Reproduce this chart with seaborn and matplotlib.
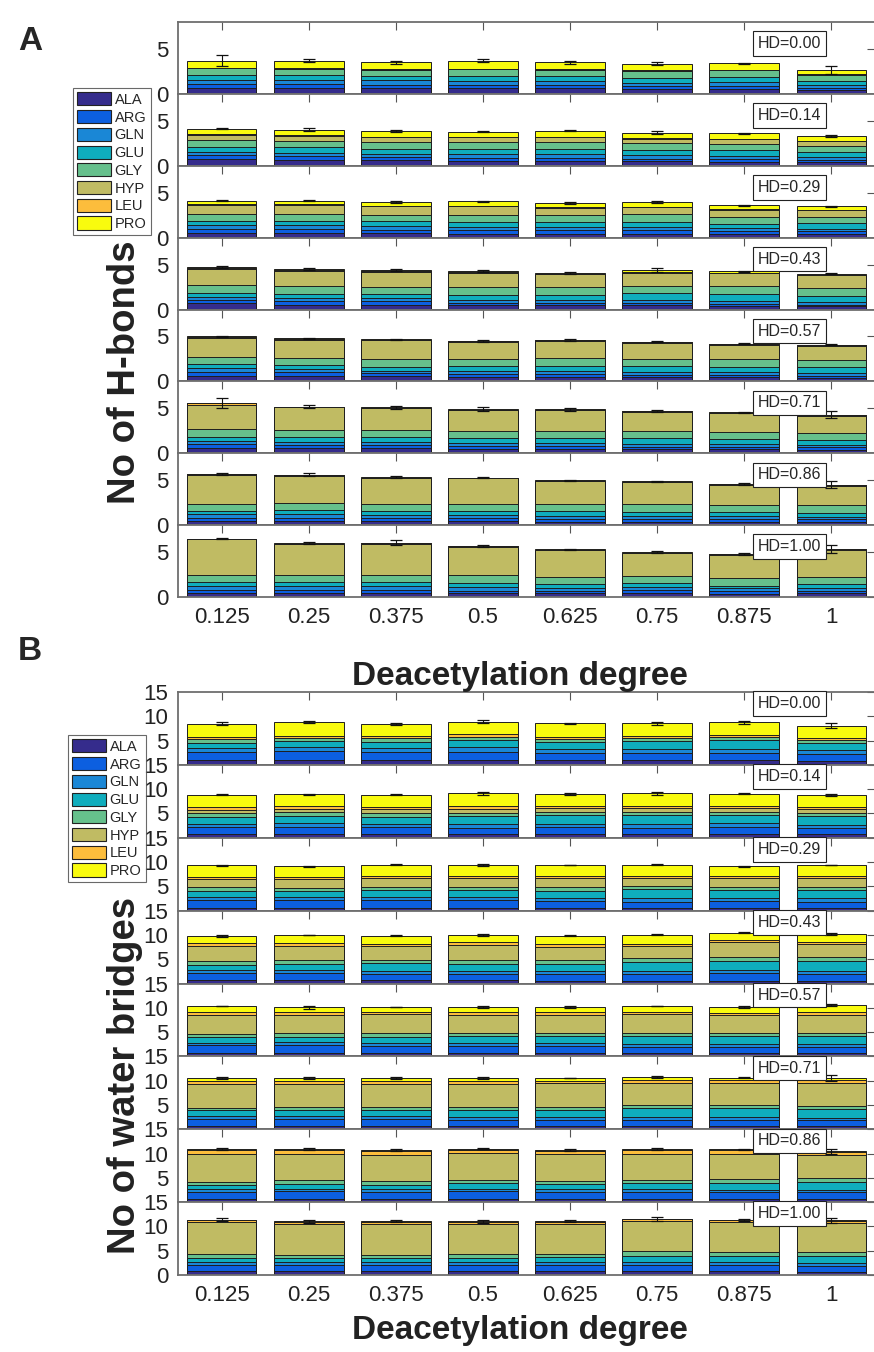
import numpy as np
import pandas as pd
import matplotlib
matplotlib.use("Agg")
import matplotlib.pyplot as plt
import matplotlib.transforms as mtransforms
import seaborn as sns
from matplotlib.patches import Patch

residues = ["ALA", "ARG", "GLN", "GLU", "GLY", "HYP", "LEU", "PRO"]
res_colors = ["#352c8c", "#0c5fe0", "#1a87d6", "#0fadbd", "#66c08c", "#c0bb63", "#fcbd3c", "#f9fb0e"]
dd = [0.125, 0.25, 0.375, 0.5, 0.625, 0.75, 0.875, 1.0]
dd_labels = ["0.125", "0.25", "0.375", "0.5", "0.625", "0.75", "0.875", "1"]
hd_labels = ["HD=0.00", "HD=0.14", "HD=0.29", "HD=0.43", "HD=0.57", "HD=0.71", "HD=0.86", "HD=1.00"]

# ---- Panel A: number of H-bonds (rows = HD, cols = deacetylation degree)
hb_ALA = [[0.70, 0.70, 0.65, 0.60, 0.60, 0.55, 0.55, 0.40],
          [0.75, 0.65, 0.60, 0.55, 0.55, 0.50, 0.45, 0.40],
          [0.55, 0.55, 0.50, 0.45, 0.45, 0.45, 0.40, 0.40],
          [0.70, 0.55, 0.50, 0.45, 0.45, 0.45, 0.40, 0.35],
          [0.65, 0.60, 0.55, 0.50, 0.50, 0.45, 0.45, 0.40],
          [0.60, 0.60, 0.55, 0.50, 0.50, 0.45, 0.45, 0.40],
          [0.45, 0.45, 0.45, 0.45, 0.40, 0.40, 0.40, 0.40],
          [0.45, 0.45, 0.45, 0.40, 0.40, 0.45, 0.35, 0.40]]
hb_ARG = [[0.40, 0.40, 0.35, 0.35, 0.35, 0.30, 0.35, 0.25],
          [0.45, 0.40, 0.40, 0.35, 0.35, 0.30, 0.30, 0.25],
          [0.45, 0.45, 0.40, 0.35, 0.35, 0.35, 0.30, 0.30],
          [0.35, 0.40, 0.40, 0.30, 0.25, 0.30, 0.25, 0.20],
          [0.40, 0.40, 0.35, 0.30, 0.30, 0.30, 0.25, 0.25],
          [0.40, 0.35, 0.40, 0.30, 0.30, 0.30, 0.25, 0.25],
          [0.35, 0.35, 0.35, 0.30, 0.30, 0.30, 0.30, 0.25],
          [0.35, 0.35, 0.35, 0.30, 0.30, 0.30, 0.30, 0.30]]
hb_GLN = [[0.50, 0.50, 0.50, 0.45, 0.45, 0.40, 0.45, 0.30],
          [0.30, 0.40, 0.35, 0.45, 0.40, 0.35, 0.35, 0.30],
          [0.40, 0.40, 0.40, 0.40, 0.40, 0.35, 0.35, 0.30],
          [0.35, 0.35, 0.40, 0.35, 0.35, 0.35, 0.30, 0.30],
          [0.40, 0.35, 0.30, 0.35, 0.35, 0.30, 0.30, 0.30],
          [0.40, 0.35, 0.35, 0.35, 0.35, 0.30, 0.30, 0.30],
          [0.40, 0.40, 0.35, 0.35, 0.35, 0.30, 0.30, 0.30],
          [0.40, 0.40, 0.40, 0.40, 0.35, 0.35, 0.35, 0.35]]
hb_GLU = [[0.50, 0.50, 0.45, 0.55, 0.55, 0.55, 0.55, 0.50],
          [0.60, 0.60, 0.55, 0.55, 0.60, 0.60, 0.60, 0.60],
          [0.45, 0.45, 0.50, 0.50, 0.50, 0.60, 0.50, 0.60],
          [0.45, 0.45, 0.40, 0.50, 0.60, 0.70, 0.75, 0.70],
          [0.45, 0.45, 0.45, 0.55, 0.60, 0.65, 0.65, 0.60],
          [0.45, 0.50, 0.50, 0.55, 0.55, 0.65, 0.60, 0.55],
          [0.40, 0.45, 0.45, 0.50, 0.50, 0.50, 0.50, 0.45],
          [0.50, 0.45, 0.45, 0.50, 0.40, 0.45, 0.25, 0.35]]
hb_GLY = [[0.75, 0.70, 0.75, 0.80, 0.75, 0.80, 0.75, 0.70],
          [0.75, 0.70, 0.75, 0.70, 0.75, 0.75, 0.70, 0.65],
          [0.80, 0.80, 0.75, 0.85, 0.80, 0.85, 0.75, 0.70],
          [0.85, 0.85, 0.75, 0.90, 0.85, 0.85, 0.95, 0.85],
          [0.80, 0.75, 0.80, 0.80, 0.80, 0.80, 0.80, 0.80],
          [0.80, 0.80, 0.75, 0.75, 0.75, 0.80, 0.80, 0.75],
          [0.75, 0.80, 0.80, 0.80, 0.75, 0.80, 0.75, 0.80],
          [0.75, 0.75, 0.85, 0.80, 0.80, 0.75, 0.90, 0.85]]
hb_HYP = [[0.00, 0.00, 0.00, 0.00, 0.00, 0.00, 0.00, 0.00],
          [0.60, 0.60, 0.50, 0.60, 0.55, 0.50, 0.55, 0.50],
          [1.00, 1.00, 0.95, 0.95, 0.85, 0.80, 0.80, 0.75],
          [1.85, 1.70, 1.75, 1.60, 1.45, 1.45, 1.40, 1.40],
          [2.10, 2.10, 2.10, 1.85, 1.90, 1.80, 1.60, 1.60],
          [2.70, 2.50, 2.45, 2.35, 2.35, 2.10, 2.05, 1.95],
          [3.25, 3.05, 2.85, 2.80, 2.60, 2.50, 2.25, 2.20],
          [3.95, 3.50, 3.45, 3.20, 2.95, 2.60, 2.55, 3.00]]
hb_LEU = [[0.05, 0.05, 0.05, 0.05, 0.05, 0.05, 0.05, 0.05],
          [0.05, 0.05, 0.05, 0.05, 0.05, 0.05, 0.05, 0.05],
          [0.05, 0.05, 0.05, 0.05, 0.05, 0.05, 0.05, 0.05],
          [0.05, 0.05, 0.05, 0.05, 0.05, 0.05, 0.05, 0.05],
          [0.10, 0.05, 0.05, 0.10, 0.10, 0.05, 0.10, 0.10],
          [0.20, 0.05, 0.05, 0.05, 0.05, 0.05, 0.05, 0.05],
          [0.05, 0.05, 0.05, 0.05, 0.05, 0.05, 0.05, 0.05],
          [0.05, 0.05, 0.05, 0.05, 0.05, 0.05, 0.05, 0.05]]
hb_PRO = [[0.80, 0.85, 0.75, 0.90, 0.75, 0.70, 0.70, 0.50],
          [0.60, 0.60, 0.70, 0.55, 0.65, 0.65, 0.60, 0.55],
          [0.40, 0.40, 0.40, 0.50, 0.45, 0.50, 0.45, 0.40],
          [0.15, 0.15, 0.15, 0.15, 0.10, 0.25, 0.15, 0.15],
          [0.10, 0.10, 0.10, 0.05, 0.05, 0.05, 0.05, 0.05],
          [0.05, 0.05, 0.05, 0.05, 0.05, 0.05, 0.05, 0.05],
          [0.05, 0.05, 0.05, 0.05, 0.05, 0.05, 0.05, 0.05],
          [0.05, 0.05, 0.05, 0.05, 0.05, 0.05, 0.05, 0.05]]
hb_err = [[0.65, 0.15, 0.15, 0.15, 0.15, 0.15, 0.08, 0.45],
          [0.05, 0.15, 0.12, 0.08, 0.08, 0.15, 0.05, 0.10],
          [0.05, 0.05, 0.08, 0.05, 0.08, 0.08, 0.03, 0.05],
          [0.08, 0.15, 0.15, 0.08, 0.12, 0.20, 0.08, 0.08],
          [0.08, 0.05, 0.05, 0.10, 0.08, 0.05, 0.08, 0.08],
          [0.55, 0.15, 0.20, 0.25, 0.15, 0.12, 0.08, 0.35],
          [0.12, 0.15, 0.15, 0.08, 0.05, 0.05, 0.10, 0.40],
          [0.10, 0.12, 0.25, 0.08, 0.05, 0.08, 0.12, 0.40]]

# ---- Panel B: number of water bridges
wb_ALA = [[1.1, 1.1, 1.0, 1.0, 1.0, 1.0, 1.0, 0.7],
          [0.7, 0.7, 0.7, 0.7, 0.7, 0.7, 0.7, 0.7],
          [0.6, 0.6, 0.6, 0.6, 0.5, 0.5, 0.6, 0.5],
          [0.7, 0.7, 0.7, 0.7, 0.6, 0.6, 0.6, 0.6],
          [0.7, 0.7, 0.7, 0.7, 0.7, 0.6, 0.6, 0.6],
          [0.7, 0.7, 0.7, 0.6, 0.6, 0.6, 0.6, 0.6],
          [0.7, 0.7, 0.7, 0.7, 0.7, 0.7, 0.6, 0.6],
          [0.8, 0.8, 0.8, 0.8, 0.8, 0.8, 0.8, 0.7]]
wb_ARG = [[1.5, 1.8, 1.6, 1.7, 1.4, 1.4, 1.5, 1.5],
          [1.5, 1.6, 1.5, 1.4, 1.5, 1.3, 1.5, 1.4],
          [1.5, 1.6, 1.5, 1.5, 1.4, 1.3, 1.4, 1.3],
          [1.5, 1.5, 1.3, 1.3, 1.3, 1.4, 1.6, 1.4],
          [1.6, 1.6, 1.5, 1.5, 1.5, 1.4, 1.4, 1.4],
          [1.5, 1.5, 1.5, 1.4, 1.4, 1.4, 1.4, 1.3],
          [1.4, 1.5, 1.4, 1.5, 1.4, 1.4, 1.4, 1.4],
          [1.3, 1.3, 1.2, 1.3, 1.3, 1.2, 1.3, 1.2]]
wb_GLN = [[0.8, 0.8, 0.9, 0.9, 0.9, 0.8, 0.8, 0.8],
          [0.7, 0.8, 0.7, 0.7, 0.7, 0.8, 0.8, 0.5],
          [0.7, 0.6, 0.7, 0.7, 0.7, 0.7, 0.7, 0.7],
          [0.5, 0.6, 0.6, 0.6, 0.6, 0.5, 0.5, 0.5],
          [0.5, 0.6, 0.6, 0.5, 0.5, 0.5, 0.5, 0.5],
          [0.6, 0.6, 0.6, 0.6, 0.6, 0.6, 0.5, 0.5],
          [0.6, 0.6, 0.6, 0.5, 0.6, 0.5, 0.5, 0.5],
          [0.6, 0.6, 0.6, 0.6, 0.6, 0.6, 0.6, 0.5]]
wb_GLU = [[1.2, 1.3, 1.3, 1.5, 1.5, 1.7, 1.8, 1.6],
          [1.3, 1.4, 1.4, 1.7, 1.7, 1.9, 1.7, 1.9],
          [1.3, 1.2, 1.4, 1.4, 1.5, 2.0, 1.6, 1.7],
          [1.2, 1.3, 1.6, 1.5, 1.6, 1.9, 2.0, 2.1],
          [1.2, 1.1, 1.2, 1.4, 1.4, 1.6, 1.6, 1.7],
          [1.1, 1.2, 1.2, 1.4, 1.4, 1.7, 1.8, 1.8],
          [0.8, 1.0, 0.9, 1.3, 1.1, 1.4, 1.5, 1.7],
          [0.9, 0.8, 0.8, 0.9, 1.0, 1.4, 1.2, 1.5]]
wb_GLY = [[0.7, 0.6, 0.7, 0.7, 0.6, 0.6, 0.6, 0.6],
          [0.8, 0.7, 0.8, 0.6, 0.6, 0.6, 0.6, 0.6],
          [0.7, 0.6, 0.6, 0.7, 0.7, 0.6, 0.6, 0.6],
          [0.7, 0.7, 0.6, 0.7, 0.7, 0.9, 0.8, 0.8],
          [0.7, 0.8, 0.8, 0.7, 0.7, 0.7, 0.7, 0.7],
          [0.5, 0.6, 0.5, 0.6, 0.6, 0.6, 0.6, 0.6],
          [0.7, 0.7, 0.7, 0.6, 0.6, 0.6, 0.7, 0.7],
          [0.8, 0.7, 0.7, 0.7, 0.7, 0.9, 0.8, 0.8]]
wb_HYP = [[0.0, 0.0, 0.0, 0.0, 0.0, 0.0, 0.0, 0.0],
          [0.8, 0.8, 0.8, 0.9, 0.9, 0.9, 0.8, 0.8],
          [1.8, 2.0, 1.9, 1.8, 2.0, 1.7, 1.8, 1.9],
          [3.2, 3.0, 3.0, 3.2, 2.8, 2.4, 3.0, 2.7],
          [3.9, 3.8, 3.9, 3.8, 3.8, 3.9, 3.7, 3.6],
          [4.9, 4.8, 4.9, 4.8, 4.9, 4.7, 4.7, 4.7],
          [5.8, 5.5, 5.5, 5.6, 5.5, 5.4, 5.3, 4.9],
          [6.5, 6.4, 6.5, 6.3, 6.2, 6.2, 6.2, 6.1]]
wb_LEU = [[0.5, 0.4, 0.4, 0.5, 0.4, 0.4, 0.5, 0.4],
          [0.5, 0.5, 0.5, 0.5, 0.4, 0.4, 0.4, 0.4],
          [0.4, 0.4, 0.4, 0.4, 0.3, 0.4, 0.4, 0.4],
          [0.5, 0.5, 0.4, 0.5, 0.5, 0.5, 0.4, 0.5],
          [0.6, 0.5, 0.5, 0.5, 0.5, 0.5, 0.5, 0.6],
          [0.6, 0.5, 0.6, 0.5, 0.5, 0.5, 0.5, 0.6],
          [0.7, 0.7, 0.7, 0.6, 0.6, 0.7, 0.7, 0.6],
          [0.4, 0.4, 0.4, 0.4, 0.4, 0.4, 0.4, 0.4]]
wb_PRO = [[2.7, 2.8, 2.6, 2.6, 2.8, 2.7, 2.6, 2.5],
          [2.6, 2.5, 2.5, 2.7, 2.6, 2.6, 2.6, 2.5],
          [2.3, 2.1, 2.3, 2.2, 2.3, 2.2, 2.0, 2.3],
          [1.4, 1.7, 1.6, 1.5, 1.7, 1.8, 1.5, 1.6],
          [1.2, 1.0, 1.0, 1.1, 1.1, 1.2, 1.2, 1.4],
          [0.7, 0.7, 0.6, 0.7, 0.5, 0.7, 0.5, 0.4],
          [0.2, 0.2, 0.2, 0.2, 0.2, 0.2, 0.2, 0.1],
          [0.1, 0.1, 0.1, 0.1, 0.1, 0.1, 0.1, 0.1]]
wb_err = [[0.30, 0.20, 0.20, 0.30, 0.10, 0.30, 0.30, 0.60],
          [0.20, 0.10, 0.20, 0.30, 0.20, 0.30, 0.15, 0.30],
          [0.05, 0.15, 0.10, 0.20, 0.05, 0.10, 0.10, 0.05],
          [0.20, 0.05, 0.10, 0.20, 0.10, 0.10, 0.10, 0.25],
          [0.05, 0.30, 0.05, 0.20, 0.15, 0.05, 0.20, 0.20],
          [0.20, 0.20, 0.20, 0.20, 0.05, 0.25, 0.15, 0.60],
          [0.15, 0.15, 0.15, 0.15, 0.15, 0.15, 0.10, 0.50],
          [0.35, 0.30, 0.15, 0.30, 0.15, 0.40, 0.20, 0.50]]

hb_data = [hb_ALA, hb_ARG, hb_GLN, hb_GLU, hb_GLY, hb_HYP, hb_LEU, hb_PRO]
wb_data = [wb_ALA, wb_ARG, wb_GLN, wb_GLU, wb_GLY, wb_HYP, wb_LEU, wb_PRO]

sns.set_style("white")
plt.rcParams['font.family'] = ['Liberation Sans', 'DejaVu Sans']

W, H = 874, 1352
fig = plt.figure(figsize=(W / 100, H / 100), dpi=100)

ax_left_px, ax_right_px = 178, 875
spine_col = "#6e6e6e"


def draw_panel(data, err, top_px, bottom_px, ymax, yticks, ytl_first, box_y):
    n = 8
    row_h = (bottom_px - top_px) / n
    for i in range(n):
        y0 = top_px + i * row_h
        ax = fig.add_axes([ax_left_px / W, 1 - (y0 + row_h) / H,
                           (ax_right_px - ax_left_px) / W, row_h / H])
        stack = np.array([data[k][i] for k in range(8)])
        cum = np.cumsum(stack, axis=0)
        for k in range(7, -1, -1):
            df = pd.DataFrame({"dd": dd, "val": cum[k]})
            sns.barplot(data=df, x="dd", y="val", native_scale=True, width=0.8,
                        color=res_colors[k], saturation=1, edgecolor="#1e1e1e",
                        linewidth=0.7, errorbar=None, ax=ax)
        ax.errorbar(dd, cum[-1], yerr=err[i], fmt="none", ecolor="#111111",
                    elinewidth=0.8, capsize=4, capthick=0.9, zorder=6)
        ax.set_xlim(0.0625, 1.0625)
        ax.set_ylim(0, ymax)
        ax.set_xticks(dd)
        ax.set_yticks(yticks)
        if i == n - 1:
            ax.set_xticklabels(dd_labels)
            ax.set_yticklabels([str(t) for t in yticks])
        else:
            ax.set_xticklabels([])
            ax.set_yticklabels([ytl_first(t) for t in yticks])
        ax.set_xlabel("")
        ax.set_ylabel("")
        ax.tick_params(direction="in", length=6, width=0.8, top=True, right=True,
                       labelsize=16, colors="#222222", pad=7)
        ax.tick_params(axis="both", color="#555555")
        for s in ax.spines.values():
            s.set_color(spine_col)
            s.set_linewidth(1.3)
        trans = mtransforms.blended_transform_factory(ax.transData, ax.transAxes)
        ax.text(0.94, box_y, hd_labels[i], transform=trans, ha="center", va="center",
                fontsize=11.5, zorder=10, clip_on=False,
                bbox=dict(boxstyle="square,pad=0.3", fc="white", ec="#222222", lw=0.8))


draw_panel(hb_data, hb_err, 22, 597, 8, [0, 5], lambda t: str(t), 0.70)
draw_panel(wb_data, wb_err, 692, 1275, 15, [0, 5, 10, 15],
           lambda t: "" if t == 0 else str(t), 0.84)

# labels
fig.text(18 / W, 1 - 42 / H, "A", fontsize=24, fontweight="bold", ha="left", va="center")
fig.text(18 / W, 1 - 652 / H, "B", fontsize=24, fontweight="bold", ha="left", va="center")
fig.text(125 / W, 1 - 372 / H, "No of H-bonds", rotation=90, fontsize=27.5,
         fontweight="bold", ha="center", va="center", color="#222222")
fig.text(125 / W, 1 - 1075 / H, "No of water bridges", rotation=90, fontsize=27.5,
         fontweight="bold", ha="center", va="center", color="#222222")
fig.text(520 / W, 1 - 677 / H, "Deacetylation degree", fontsize=24,
         fontweight="bold", ha="center", va="center", color="#222222")
fig.text(520 / W, 1 - 1331 / H, "Deacetylation degree", fontsize=24,
         fontweight="bold", ha="center", va="center", color="#222222")

handles = [Patch(facecolor=c, edgecolor="#222222", linewidth=0.8) for c in res_colors]
for (lx, ly) in [(73, 88), (68, 735)]:
    leg = fig.legend(handles, residues, loc="upper left",
                     bbox_to_anchor=(lx / W, 1 - ly / H), fontsize=10.5, frameon=True,
                     fancybox=False, edgecolor="#444444", handlelength=2.3,
                     handleheight=1.0, labelspacing=0.22, borderpad=0.3,
                     handletextpad=0.25, borderaxespad=0)
    leg.get_frame().set_linewidth(0.8)

fig.savefig("out.png", dpi=100)
